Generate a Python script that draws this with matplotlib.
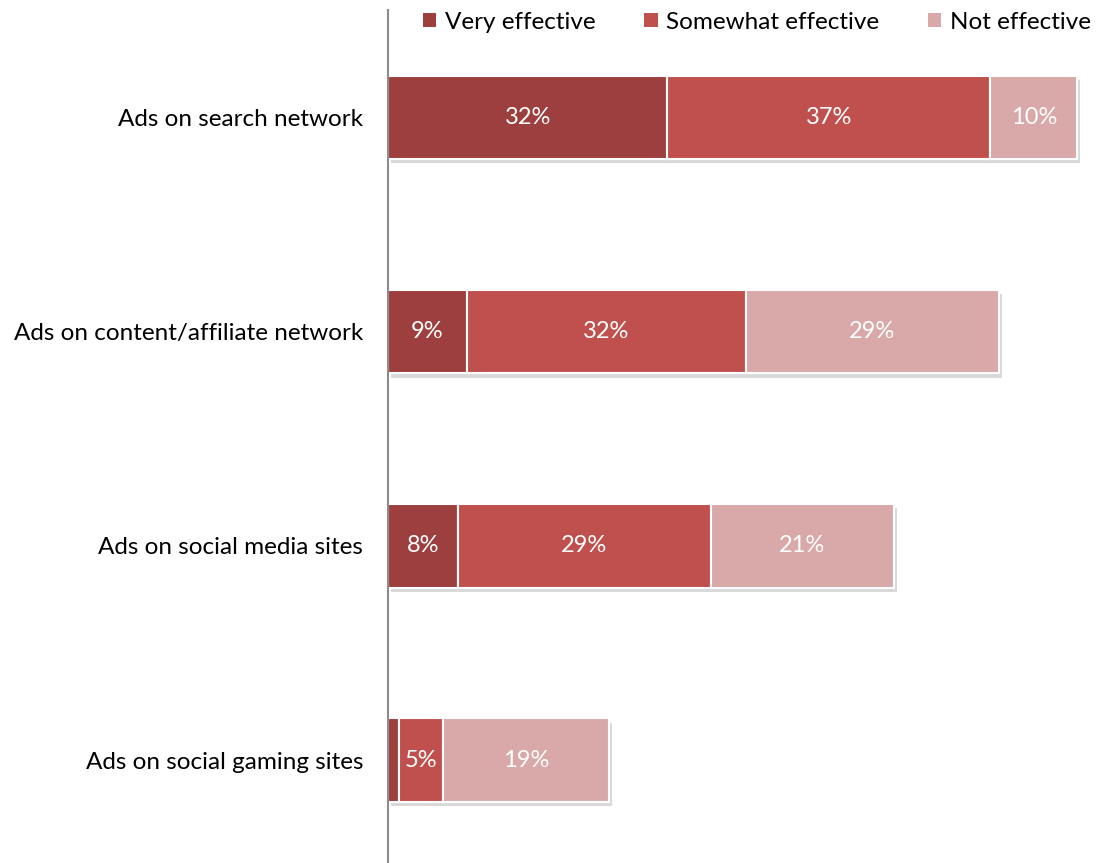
import matplotlib.pyplot as plt
import matplotlib.patheffects as pe
from matplotlib.patches import Patch

categories = ["Ads on search network", "Ads on content/affiliate network",
              "Ads on social media sites", "Ads on social gaming sites"]
very = [32, 9, 8, 1.3]
somewhat = [37, 32, 29, 5]
not_eff = [10, 29, 21, 19]
very_labels = ["32%", "9%", "8%", ""]
somewhat_labels = ["37%", "32%", "29%", "5%"]
not_labels = ["10%", "29%", "21%", "19%"]

series_names = ["Very effective", "Somewhat effective", "Not effective"]
colors = ["#9C3F3E", "#C0504D", "#D9A9A9"]

plt.rcParams['font.family'] = ['Lato', 'DejaVu Sans']

fig = plt.figure(figsize=(11.07, 8.63), dpi=100)
ax = fig.add_axes([0.3505, 0.0, 0.6495, 0.988])

ypos = list(range(len(categories)))
shadow = [pe.SimplePatchShadow(offset=(2, -3), shadow_rgbFace='#000000', alpha=0.15), pe.Normal()]

left = [0] * len(categories)
for vals, labs, col in zip([very, somewhat, not_eff],
                           [very_labels, somewhat_labels, not_labels], colors):
    bars = ax.barh(ypos, vals, left=left, height=0.39, color=col,
                   edgecolor='white', linewidth=1.5)
    for b in bars:
        b.set_path_effects(shadow)
    for y, v, l, lab in zip(ypos, vals, left, labs):
        if lab:
            ax.text(l + v / 2, y, lab, ha='center', va='center',
                    color='white', fontsize=17)
    left = [a + b for a, b in zip(left, vals)]

ax.set_xlim(0, 82.4)
ax.set_ylim(3.48, -0.5)
ax.set_yticks(ypos)
ax.set_yticklabels(categories, fontsize=17.5)
ax.tick_params(axis='y', length=0, pad=18)
ax.set_xticks([])
for s in ['top', 'right', 'bottom']:
    ax.spines[s].set_visible(False)
ax.spines['left'].set_color('#8C8C8C')
ax.spines['left'].set_linewidth(1.5)

handles = [Patch(facecolor=c, edgecolor='none') for c in colors]
fig.legend(handles, series_names, loc='upper right', bbox_to_anchor=(1.005, 1.012),
           ncol=3, frameon=False, fontsize=17.5, handlelength=0.55,
           handleheight=0.55, handletextpad=0.35, columnspacing=2.0)

fig.savefig("out.png", dpi=100)
